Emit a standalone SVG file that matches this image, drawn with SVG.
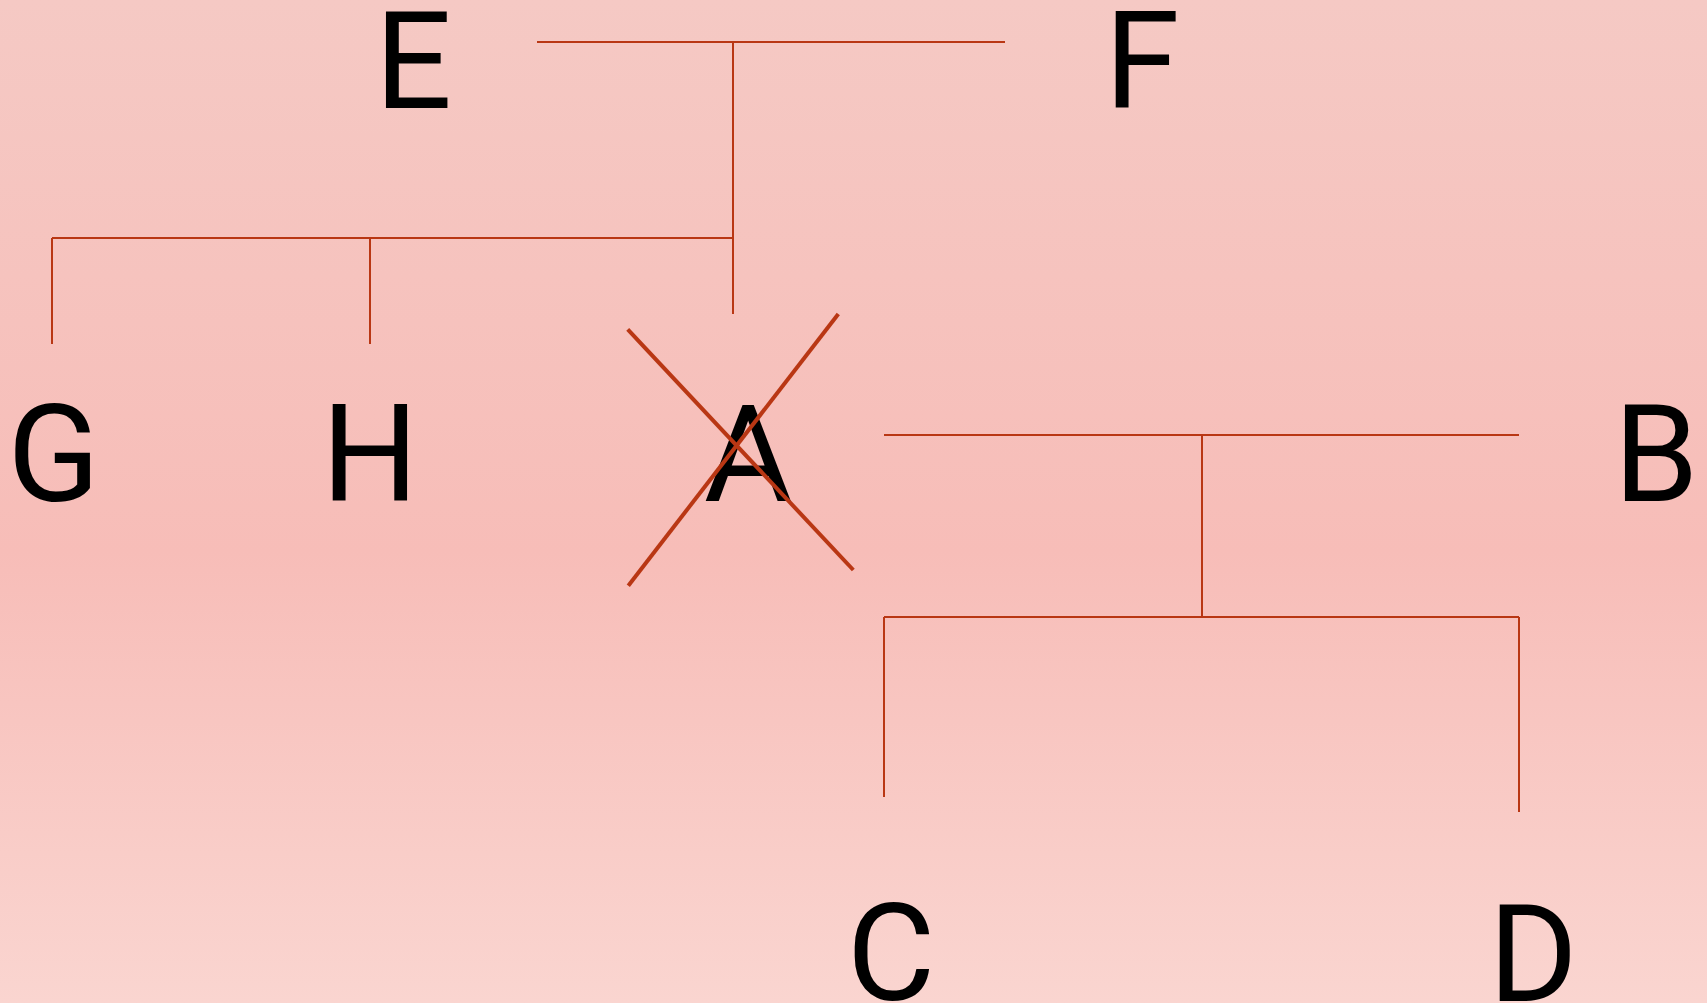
<svg xmlns="http://www.w3.org/2000/svg" width="1707" height="1003" viewBox="0 0 1707 1003">
  <style>
    .lbl { font-family: Roboto, "Liberation Sans", Arial, sans-serif; font-size: 136px; fill: #000; text-anchor: middle; }
    .con { stroke: #b93714; stroke-width: 2; fill: none; stroke-linecap: butt; }
    .cross { stroke: #b93714; stroke-width: 4; fill: none; }
  </style>
  <defs>
    <linearGradient id="bg" x1="0" y1="0" x2="0" y2="1">
      <stop offset="0" stop-color="#f5c9c4"/>
      <stop offset="0.55" stop-color="#f7bdb8"/>
      <stop offset="1" stop-color="#fad5d0"/>
    </linearGradient>
  </defs>
  <rect x="0" y="0" width="1707" height="1003" fill="url(#bg)"/>

  <g id="connectors">
    <line class="con" x1="537" y1="42" x2="1005" y2="42"/>
    <line class="con" x1="733" y1="42" x2="733" y2="314"/>
    <line class="con" x1="52" y1="238" x2="733" y2="238"/>
    <line class="con" x1="52" y1="238" x2="52" y2="344"/>
    <line class="con" x1="370" y1="238" x2="370" y2="344"/>
    <line class="con" x1="884" y1="435" x2="1519" y2="435"/>
    <line class="con" x1="1202" y1="435" x2="1202" y2="617"/>
    <line class="con" x1="884" y1="617" x2="1519" y2="617"/>
    <line class="con" x1="884" y1="617" x2="884" y2="797"/>
    <line class="con" x1="1519" y1="617" x2="1519" y2="812"/>
  </g>

  <g id="node-E"><text class="lbl" x="413.5" y="108">E</text></g>
  <g id="node-F"><text class="lbl" x="1142" y="108">F</text></g>
  <g id="node-G"><text class="lbl" x="53.5" y="501">G</text></g>
  <g id="node-H"><text class="lbl" x="370" y="501">H</text></g>
  <g id="node-A">
    <text class="lbl" x="748" y="501">A</text>
    <line class="cross" x1="627.7" y1="329.3" x2="853.3" y2="570"/>
    <line class="cross" x1="838.3" y1="314" x2="628.3" y2="585.7"/>
  </g>
  <g id="node-B"><text class="lbl" x="1656" y="501">B</text></g>
  <g id="node-C"><text class="lbl" x="891" y="1000">C</text></g>
  <g id="node-D"><text class="lbl" x="1533" y="1001">D</text></g>
</svg>
